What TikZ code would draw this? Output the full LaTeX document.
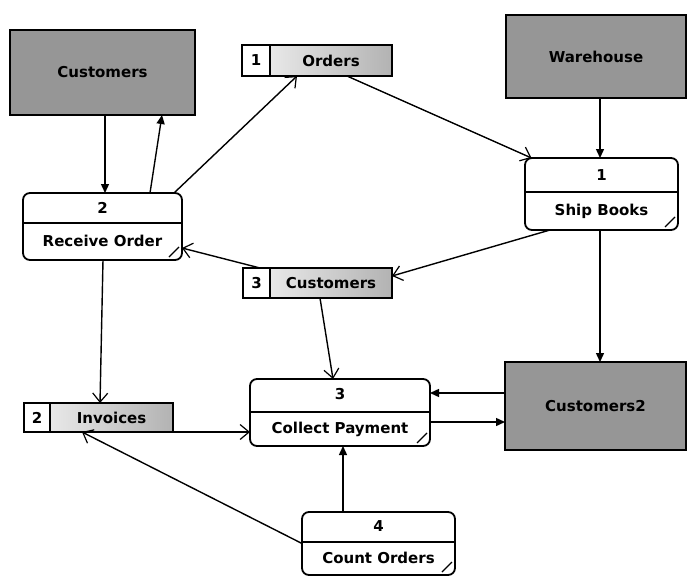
\documentclass[tikz,border=0pt]{standalone}
\usepackage{fontspec}
\setmainfont{DejaVu Sans}
\usetikzlibrary{arrows.meta,calc}
\definecolor{entgray}{RGB}{150,150,150}
\tikzset{
  every node/.style={inner sep=0pt,outer sep=0pt,font=\bfseries\fontsize{15}{17}\selectfont},
  entity/.style={draw,line width=1.8pt,fill=entgray,rectangle},
  proc/.style={draw,line width=1.8pt,rounded corners=7pt,fill=white},
  stnum/.style={draw,line width=1.4pt,fill=white,rectangle},
  stname/.style={draw,line width=1.4pt,rectangle,left color=gray!18,right color=gray!60},
  flow/.style={line width=1.4pt},
  tri/.style={flow,-{Triangle[length=9pt,width=8pt]}},
  barb/.style={flow,-{Straight Barb[length=9pt,width=15pt,line width=1.2pt]}},
  cornermark/.style={line width=1.2pt}
}
\begin{document}
\begin{tikzpicture}[x=1pt,y=-1pt]
\useasboundingbox (0,0) rectangle (688,578);

% external entities
\node[entity,minimum width=185pt,minimum height=85pt] (cust) at (102.5,72.5) {};
\node at (cust) {Customers};
\node[entity,minimum width=180pt,minimum height=83pt] (wh) at (596,56.5) {};
\node at (wh) {Warehouse};
\node[entity,minimum width=181pt,minimum height=88pt] (cust2) at (595.5,406) {};
\node at (cust2) {Customers2};

% processes
\node[proc,minimum width=159pt,minimum height=67pt] (ro) at (102.5,226.5) {};
\draw[line width=1.6pt] ($(ro.north west)+(0,30)$) -- ($(ro.north east)+(0,30)$);
\node (ronum) at ($(ro.north)+(0,15)$) {2};
\node (rotxt) at ($(ro.north)+(0,48)$) {Receive Order};
\draw[cornermark] ($(ro.south east)+(-13,-3)$) -- ($(ro.south east)+(-3,-13)$);

\node[proc,minimum width=153pt,minimum height=72pt] (sb) at (601.5,194) {};
\draw[line width=1.6pt] ($(sb.north west)+(0,34)$) -- ($(sb.north east)+(0,34)$);
\node (sbnum) at ($(sb.north)+(0,17)$) {1};
\node (sbtxt) at ($(sb.north)+(0,53)$) {Ship Books};
\draw[cornermark] ($(sb.south east)+(-13,-3)$) -- ($(sb.south east)+(-3,-13)$);

\node[proc,minimum width=180pt,minimum height=67pt] (cp) at (340,412.5) {};
\draw[line width=1.6pt] ($(cp.north west)+(0,33)$) -- ($(cp.north east)+(0,33)$);
\node (cpnum) at ($(cp.north)+(0,15)$) {3};
\node (cptxt) at ($(cp.north)+(0,50)$) {Collect Payment};
\draw[cornermark] ($(cp.south east)+(-13,-3)$) -- ($(cp.south east)+(-3,-13)$);

\node[proc,minimum width=153pt,minimum height=63pt] (co) at (378.5,543.5) {};
\draw[line width=1.6pt] ($(co.north west)+(0,30)$) -- ($(co.north east)+(0,30)$);
\node (conum) at ($(co.north)+(0,14)$) {4};
\node (cotxt) at ($(co.north)+(0,46)$) {Count Orders};
\draw[cornermark] ($(co.south east)+(-13,-3)$) -- ($(co.south east)+(-3,-13)$);

% data stores
\node[stname,minimum width=122pt,minimum height=31pt] (s1n) at (331,60.5) {};
\node at (s1n) {Orders};
\node[stnum,minimum width=28pt,minimum height=31pt] (s1i) at (256,60.5) {1};

\node[stname,minimum width=122pt,minimum height=30pt] (s3n) at (331,283) {};
\node at (s3n) {Customers};
\node[stnum,minimum width=27pt,minimum height=30pt] (s3i) at (256.5,283) {3};

\node[stname,minimum width=123pt,minimum height=29pt] (s2n) at (111.5,417.5) {};
\node at (s2n) {Invoices};
\node[stnum,minimum width=26pt,minimum height=29pt] (s2i) at (37,417.5) {2};

% flows
\draw[tri] ([xshift=2.5pt]cust.south) -- ([xshift=2.5pt]ro.north);
\draw[tri] ([xshift=47.5pt]ro.north) -- ([xshift=59.5pt]cust.south);
\draw[barb] ([xshift=71.5pt]ro.north) -- ([xshift=-34pt]s1n.south);
\draw[barb] ([xshift=16pt]s1n.south) -- ([xshift=-70pt]sb.north);
\draw[tri] ([xshift=4pt]wh.south) -- ([xshift=-1.5pt]sb.north);
\draw[barb] ([xshift=-51.5pt]sb.south) -- ([yshift=7pt]s3n.east);
\draw[barb] ([xshift=-10pt]s3n.north west) -- ([yshift=-21.5pt]ro.east);
\draw[tri] ([xshift=-1.5pt]sb.south) -- ([xshift=4.5pt]cust2.north);
\draw[barb] ([xshift=-11pt]s3n.south) -- ([xshift=-7pt]cp.north);
\draw[barb] ([xshift=0.5pt]ro.south) -- ([xshift=-11.5pt]s2n.north);
\coordinate (c11) at ([xshift=4pt]s2n.south east);
\draw[flow] (s2n.south east) -- (c11);
\draw[barb] (c11) -- (c11 -| cp.west);
\draw[barb] (co.west) -- ([xshift=-29.5pt]s2n.south);
\draw[tri] ([xshift=-35.5pt]co.north) -- ([xshift=3pt]cp.south);
\coordinate (c14) at ([yshift=13pt]cust2.west);
\draw[tri] (c14) -- (c14 -| cp.east);
\coordinate (c15) at ([yshift=-9.5pt]cp.east);
\draw[tri] (c15) -- (c15 -| cust2.west);
\end{tikzpicture}
\end{document}
